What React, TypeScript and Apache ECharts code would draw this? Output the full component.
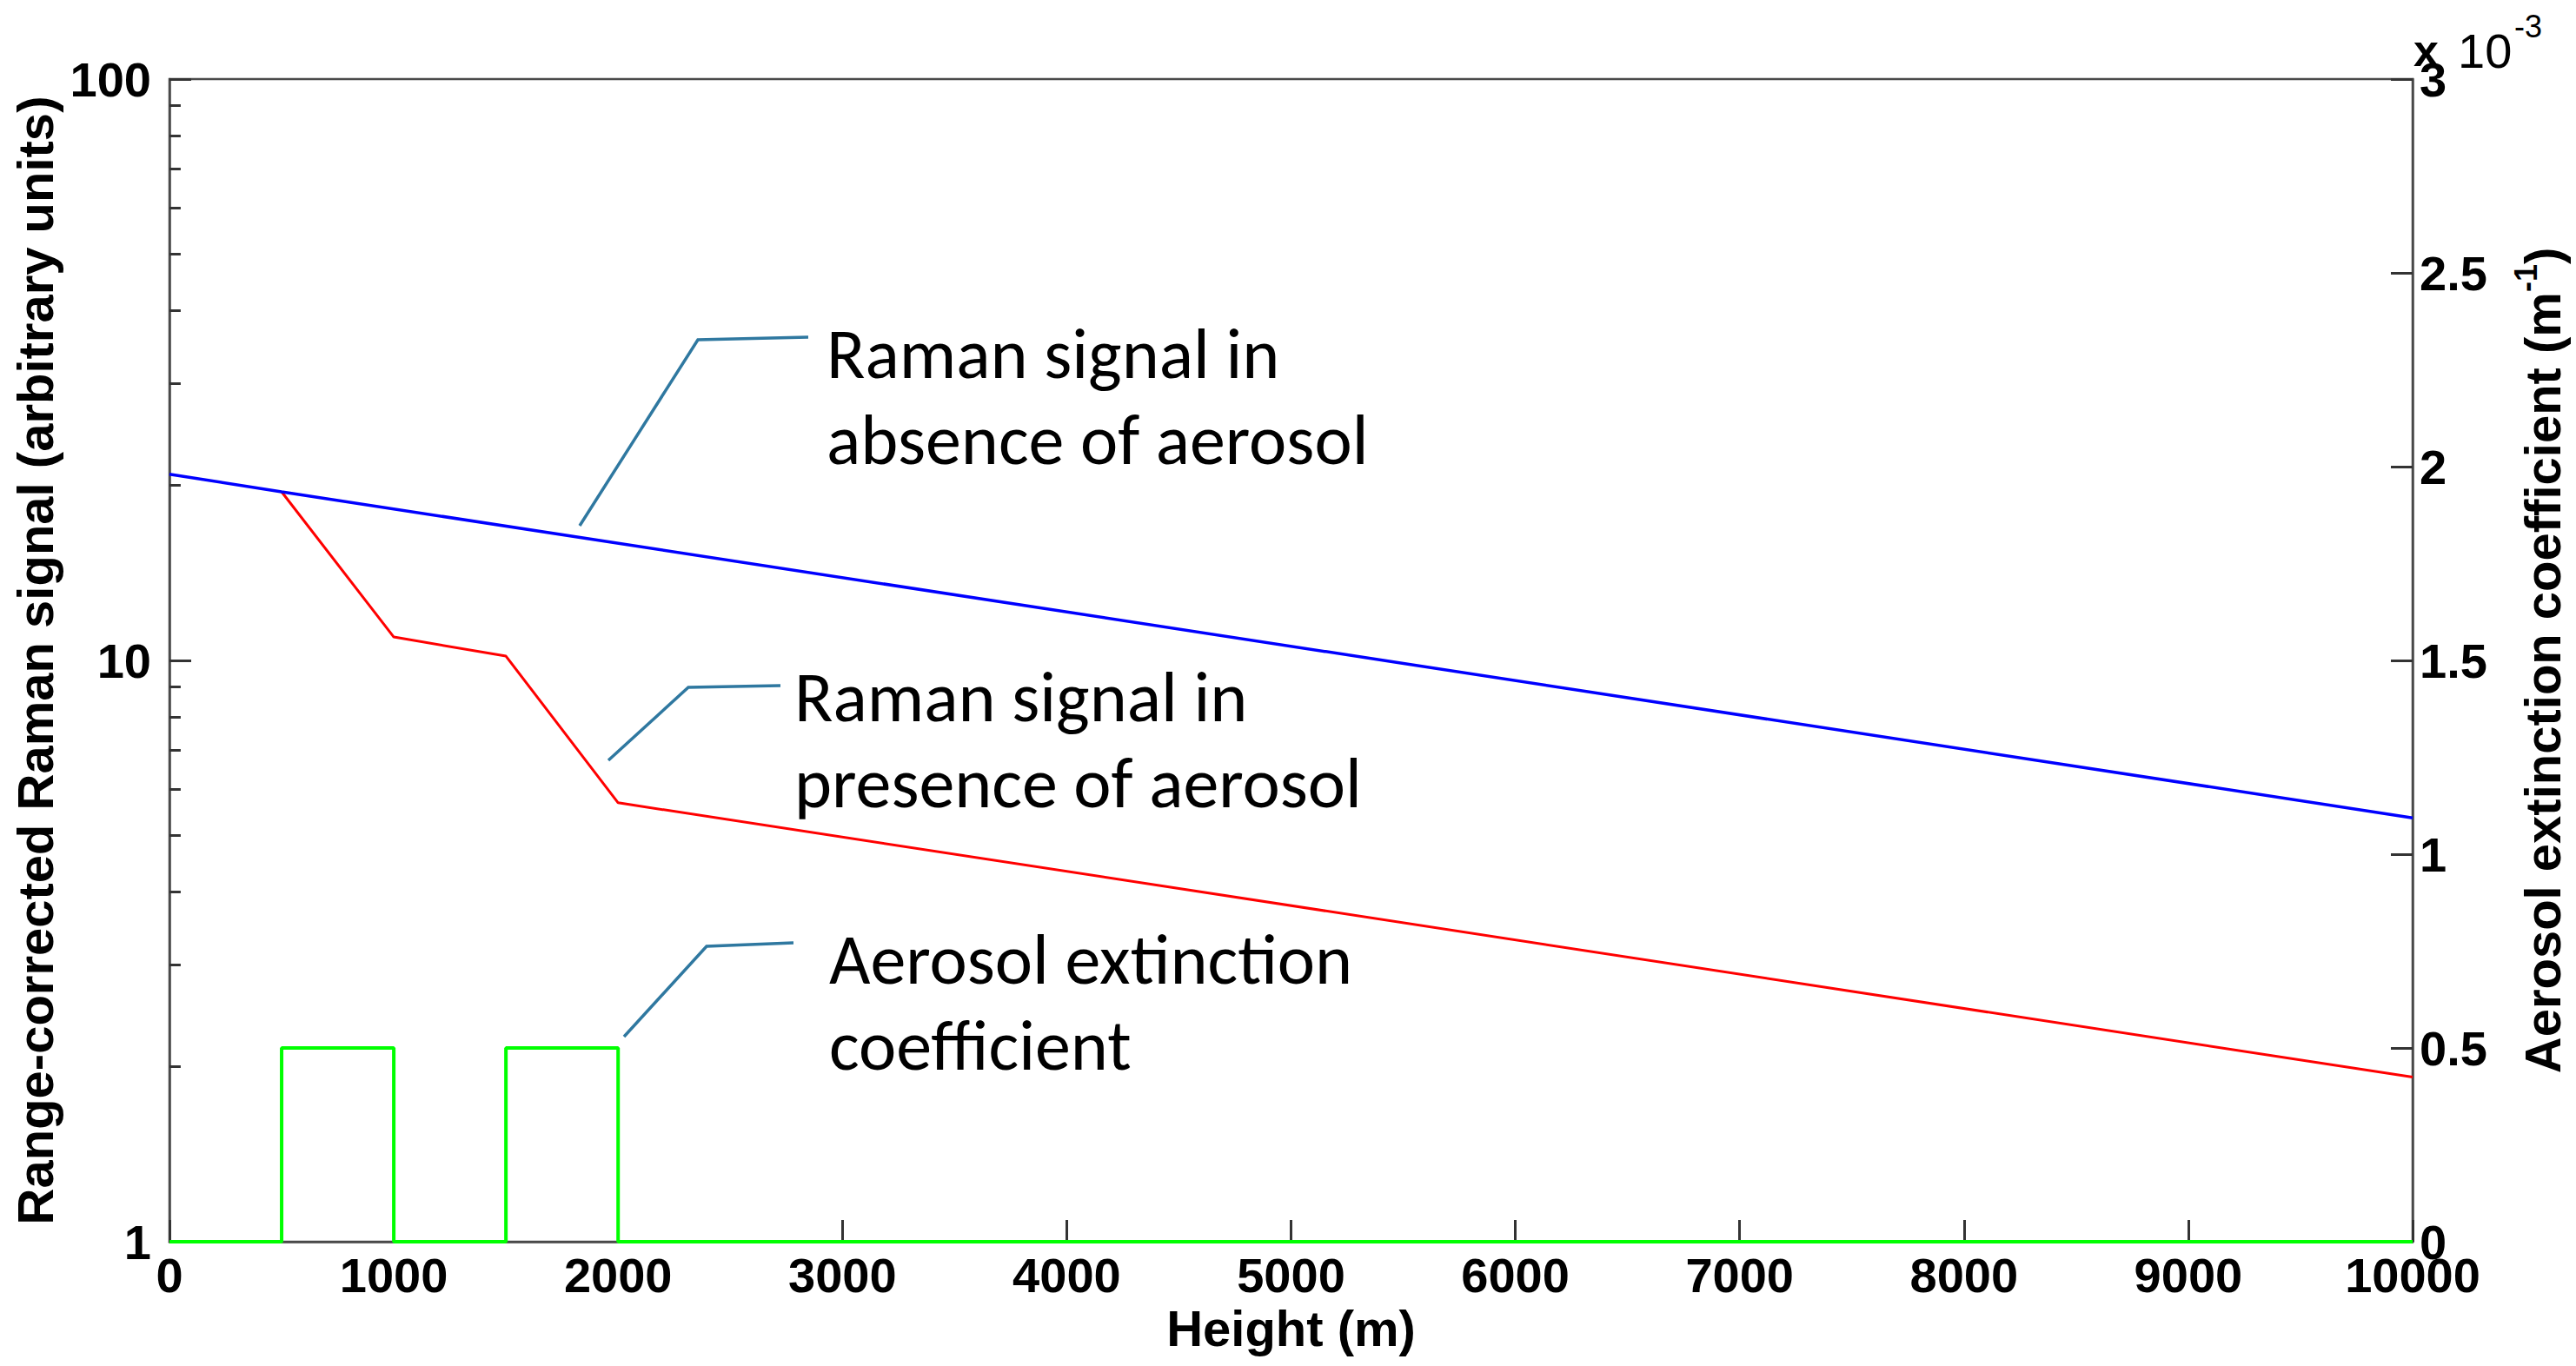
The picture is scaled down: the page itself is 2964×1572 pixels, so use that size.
import React, { useEffect, useRef } from "react";
import * as echarts from "echarts";

// ---- data ----
const heightsNoAerosol = [0, 500, 10000];
const signalNoAerosol = [20.9, 19.5, 5.36];

const heightsAerosol = [500, 1000, 1500, 2000, 10000];
const signalAerosol = [19.5, 10.97, 10.17, 5.69, 1.92];

const heightsExt = [0, 500, 500, 1000, 1000, 1500, 1500, 2000, 2000, 10000];
const extinction = [0, 0, 0.0005, 0.0005, 0, 0, 0.0005, 0.0005, 0, 0];

const minorLogTicks = [2, 3, 4, 5, 6, 7, 8, 9, 20, 30, 40, 50, 60, 70, 80, 90];
const minorTickSpan = 50; // minor tick length, in metres of the x axis

const W = 2964;
const H = 1572;
const LABEL_FONT = "'Liberation Sans', Arial, sans-serif";
const NOTE_FONT = "Carlito, Lato, 'Open Sans', sans-serif";
const AXIS_COLOR = "#4a4a4a";
const TICK_COLOR = "#333333";
const CALLOUT = "#2f78a0";

function zip(xs: number[], ys: number[]) {
  return xs.map((x, i) => [x, ys[i]]);
}

export default function App() {
  const ref = useRef<HTMLDivElement>(null);
  useEffect(() => {
    document.body.style.margin = "0";
    const chart = echarts.init(ref.current!, null, { renderer: "svg" });
    const tickLabel = {
      color: "#000",
      fontFamily: LABEL_FONT,
      fontWeight: "bold" as const,
      fontSize: 56,
    };
    const nameStyle = {
      color: "#000",
      fontFamily: LABEL_FONT,
      fontWeight: "bold" as const,
      fontSize: 58,
    };
    const tickStyle = { show: true, inside: true, length: 25, lineStyle: { color: TICK_COLOR, width: 3 } };
    const note = (text: string, x: number, y: number) => ({
      type: "text",
      x,
      y,
      z: 100,
      style: {
        text,
        fill: "#000",
        font: `82px ${NOTE_FONT}`,
        lineHeight: 99,
        verticalAlign: "middle",
        align: "left",
      },
    });
    const callout = (pts: number[][]) => ({
      type: "polyline",
      z: 100,
      shape: { points: pts },
      style: { stroke: CALLOUT, lineWidth: 3.5, fill: "none" },
    });
    chart.setOption({
      animation: false,
      backgroundColor: "#fff",
      grid: {
        left: 195,
        right: W - 2776,
        top: 91,
        bottom: H - 1429,
        show: true,
        borderColor: AXIS_COLOR,
        borderWidth: 2.5,
      },
      xAxis: {
        type: "value",
        min: 0,
        max: 10000,
        interval: 1000,
        name: "Height (m)",
        nameLocation: "middle",
        nameGap: 66,
        nameTextStyle: nameStyle,
        axisLine: { show: true, lineStyle: { color: AXIS_COLOR, width: 2.5 } },
        axisTick: tickStyle,
        axisLabel: {
          ...tickLabel,
          margin: 10,
          showMinLabel: true,
          showMaxLabel: true,
          formatter: (v: number) => String(v),
        },
        splitLine: { show: false },
      },
      yAxis: [
        {
          type: "log",
          logBase: 10,
          min: 1,
          max: 100,
          position: "left",
          name: "Range-corrected Raman signal (arbitrary units)",
          nameLocation: "middle",
          nameRotate: 90,
          nameGap: 118,
          nameTextStyle: nameStyle,
          axisLine: { show: true, lineStyle: { color: AXIS_COLOR, width: 2.5 } },
          axisTick: tickStyle,
          axisLabel: { ...tickLabel, margin: 21, formatter: (v: number) => String(v) },
          splitLine: { show: false },
        },
        {
          type: "value",
          min: 0,
          max: 0.003,
          interval: 0.0005,
          position: "right",
          name: "{t|Aerosol extinction coefficient (m}{s|-1}{t|)}",
          nameLocation: "middle",
          nameRotate: 90,
          nameGap: 112,
          nameTextStyle: {
            ...nameStyle,
            rich: {
              t: { ...nameStyle, lineHeight: 66, verticalAlign: "bottom" },
              s: {
                color: "#000",
                fontFamily: LABEL_FONT,
                fontWeight: "bold",
                fontSize: 36,
                lineHeight: 66,
                verticalAlign: "top",
              },
            },
          },
          axisLine: { show: true, lineStyle: { color: AXIS_COLOR, width: 2.5 } },
          axisTick: tickStyle,
          axisLabel: {
            ...tickLabel,
            margin: 8,
            formatter: (v: number) => String(Math.round(v * 10000) / 10),
          },
          splitLine: { show: false },
        },
      ],
      series: [
        {
          type: "line",
          name: "Raman signal in presence of aerosol",
          yAxisIndex: 0,
          data: zip(heightsAerosol, signalAerosol),
          showSymbol: false,
          symbol: "none",
          lineStyle: { color: "#ff0000", width: 3 },
          z: 3,
        },
        {
          type: "line",
          name: "Raman signal in absence of aerosol",
          yAxisIndex: 0,
          data: zip(heightsNoAerosol, signalNoAerosol),
          showSymbol: false,
          symbol: "none",
          lineStyle: { color: "#0000ff", width: 3.5 },
          z: 4,
          markLine: {
            silent: true,
            animation: false,
            symbol: ["none", "none"],
            label: { show: false },
            lineStyle: { color: TICK_COLOR, width: 3, type: "solid" },
            emphasis: { disabled: true },
            data: minorLogTicks.map((v) => [
              { coord: [0, v] },
              { coord: [minorTickSpan, v] },
            ]),
          },
        },
        {
          type: "line",
          name: "Aerosol extinction coefficient",
          yAxisIndex: 1,
          data: zip(heightsExt, extinction),
          showSymbol: false,
          symbol: "none",
          lineStyle: { color: "#00ff00", width: 4 },
          z: 5,
        },
      ],
      graphic: [
        callout([[667, 605], [803, 391], [930, 388]]),
        callout([[700, 875], [792, 791], [898, 789]]),
        callout([[718, 1193], [813, 1089], [913, 1085]]),
        note("Raman signal in\nabsence of aerosol", 951, 456),
        note("Raman signal in\npresence of aerosol", 914, 851),
        note("Aerosol extinction\ncoefficient", 954, 1153),
        {
          type: "text",
          x: 2777,
          y: 84,
          z: 100,
          style: {
            text: "x",
            fill: "#000",
            font: `bold 52px ${LABEL_FONT}`,
            verticalAlign: "bottom",
            align: "left",
          },
        },
        {
          type: "text",
          x: 2828,
          y: 86,
          z: 100,
          style: {
            text: "10",
            fill: "#000",
            font: `56px ${LABEL_FONT}`,
            verticalAlign: "bottom",
            align: "left",
          },
        },
        {
          type: "text",
          x: 2893,
          y: 48,
          z: 100,
          style: {
            text: "-3",
            fill: "#000",
            font: `36px ${LABEL_FONT}`,
            verticalAlign: "bottom",
            align: "left",
          },
        },
      ],
    });
    return () => chart.dispose();
  }, []);
  return <div ref={ref} style={{ width: W, height: H }} />;
}
